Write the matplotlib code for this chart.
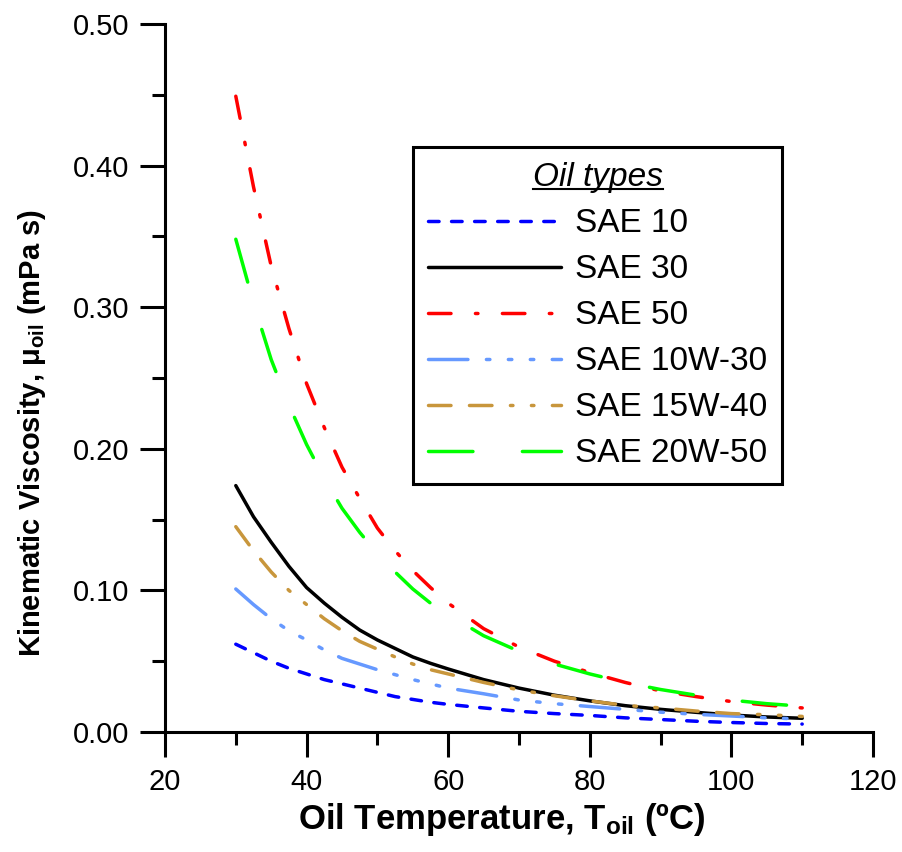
import numpy as np
import matplotlib
matplotlib.use("Agg")
import matplotlib.pyplot as plt
from matplotlib.lines import Line2D

plt.rcParams['font.family'] = ['Liberation Sans', 'DejaVu Sans']
plt.rcParams['mathtext.default'] = 'regular'
plt.rcParams['lines.scale_dashes'] = False

#%% Data
temp = [30, 32.5, 35, 37.5, 40, 42.5, 45, 47.5, 50, 52.5, 55, 57.5, 60,
        65, 70, 75, 80, 85, 90, 95, 100, 105, 110]
sae10 = [0.062, 0.056, 0.050, 0.045, 0.041, 0.037, 0.034, 0.031, 0.028, 0.025, 0.023, 0.021, 0.0195,
         0.017, 0.0146, 0.013, 0.0117, 0.010, 0.0088, 0.0076, 0.0067, 0.0060, 0.0056]
sae30 = [0.174, 0.152, 0.134, 0.117, 0.102, 0.091, 0.081, 0.072, 0.065, 0.059, 0.053, 0.0485, 0.0445,
         0.037, 0.031, 0.026, 0.022, 0.0186, 0.016, 0.0139, 0.012, 0.0106, 0.0097]
sae50 = [0.449, 0.385, 0.329, 0.285, 0.246, 0.215, 0.187, 0.165, 0.144, 0.128, 0.114, 0.102, 0.091,
         0.073, 0.060, 0.050, 0.042, 0.035, 0.029, 0.025, 0.0215, 0.019, 0.017]
sae10w30 = [0.101, 0.090, 0.080, 0.0715, 0.065, 0.058, 0.052, 0.048, 0.044, 0.0405, 0.037, 0.034, 0.031,
            0.027, 0.0226, 0.020, 0.018, 0.016, 0.014, 0.0125, 0.0113, 0.010, 0.0092]
sae15w40 = [0.145, 0.128, 0.113, 0.100, 0.090, 0.080, 0.0715, 0.064, 0.0585, 0.053, 0.048, 0.044, 0.041,
            0.035, 0.0297, 0.0256, 0.022, 0.0188, 0.017, 0.0148, 0.013, 0.0122, 0.011]
sae20w50 = [0.348, 0.303, 0.263, 0.231, 0.203, 0.179, 0.158, 0.141, 0.126, 0.113, 0.101, 0.091, 0.083,
            0.068, 0.057, 0.048, 0.041, 0.035, 0.030, 0.026, 0.0225, 0.020, 0.0182]

names = ['SAE 10', 'SAE 30', 'SAE 50', 'SAE 10W-30', 'SAE 15W-40', 'SAE 20W-50']
series = [sae10, sae30, sae50, sae10w30, sae15w40, sae20w50]
colors = ['#0000FF', '#000000', '#FF0000', '#6699FF', '#C8963C', '#00FF00']
styles = [(0, (7.6, 9.0)),
          '-',
          (0, (16.2, 17.6, 1.8, 17.6)),
          (0, (28.4, 13.3, 2.5, 13.3, 2.5, 13.3, 2.5, 13.3)),
          (0, (16.2, 13.3, 16.2, 13.3, 1.8, 13.3, 1.8, 13.3)),
          (0, (32.0, 35.6))]

#%% Plot
fig = plt.figure(figsize=(9.03, 8.52), dpi=100)
ax = fig.add_axes([165/903, 1-732/852, 708/903, 708/852])

for name, vals, c, ls in zip(names, series, colors, styles):
    ax.plot(temp, vals, color=c, linestyle=ls, lw=2.5, label=name,
            dash_capstyle='round', solid_capstyle='round')

ax.set_xlim(20, 120)
ax.set_ylim(0, 0.5)
ax.set_xticks(np.arange(20, 121, 20))
ax.set_xticks(np.arange(30, 120, 20), minor=True)
ax.set_yticks(np.arange(0, 0.51, 0.1))
ax.set_yticks(np.arange(0.05, 0.5, 0.1), minor=True)
ax.set_yticklabels([f"{v:.2f}" for v in np.arange(0, 0.51, 0.1)])

for s in ['top', 'right']:
    ax.spines[s].set_visible(False)
for s in ['left', 'bottom']:
    ax.spines[s].set_linewidth(2.2)
ax.tick_params(which='major', direction='out', length=18, width=2.2, labelsize=21, pad=8)
ax.tick_params(which='minor', direction='out', length=9.5, width=2.2)

ax.set_xlabel('Oil Temperature, T$_{oil}$ (ºC)', fontsize=25, fontweight='bold')
ax.set_ylabel('Kinematic Viscosity, μ$_{oil}$ (mPa s)', fontsize=21, fontweight='bold')
ax.xaxis.set_label_coords(0.476, -0.097)
ax.yaxis.set_label_coords(-0.165, 0.422)

leg = ax.legend(loc='upper left', bbox_to_anchor=(0.350, 0.826), frameon=True, fancybox=False,
                framealpha=1, fontsize=24, handlelength=4.0, handletextpad=0.42,
                labelspacing=0.45, borderpad=0.45, borderaxespad=0, title='Oil types',
                title_fontproperties={'size': 24, 'style': 'italic'})
leg.get_frame().set_edgecolor('black')
leg.get_frame().set_linewidth(2.2)

# underline the legend title
fig.canvas.draw()
bb = leg.get_title().get_window_extent(fig.canvas.get_renderer())
inv = fig.transFigure.inverted()
(x0, y0), (x1, _) = inv.transform([(bb.x0, bb.y0 + 4), (bb.x1, bb.y0 + 4)])
fig.add_artist(Line2D([x0, x1], [y0, y0], color='black', lw=1.5))

fig.savefig('out.png', dpi=100)
